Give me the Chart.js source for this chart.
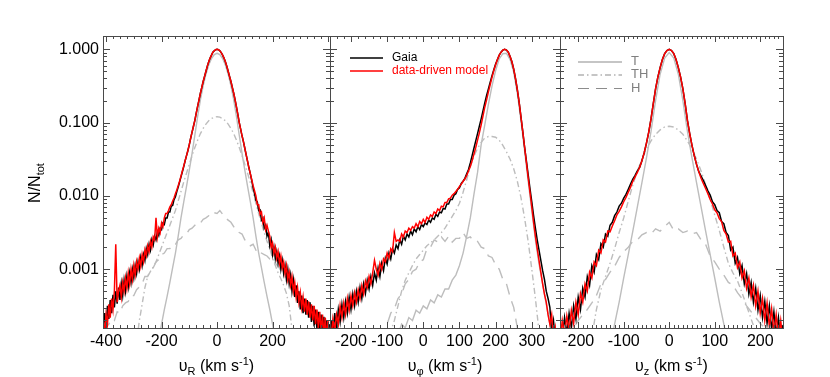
<!DOCTYPE html>
<html>
<head>
<meta charset="utf-8">
<script src="https://cdn.jsdelivr.net/npm/chart.js@4.4.1/dist/chart.umd.min.js"></script>
<style>
html,body{margin:0;padding:0;background:#fff;}
#wrap{position:relative;width:830px;height:377px;background:#fff;}
#wrap canvas{position:absolute;left:0;top:0;}
</style>
</head>
<body>
<div id="wrap">
<canvas id="c0" width="830" height="377"></canvas>
<canvas id="c1" width="830" height="377"></canvas>
<canvas id="c2" width="830" height="377"></canvas>
</div>
<script>
// ---------------- DATA (values are log10 of N/Ntot) ----------------
// Panel 1: v_R
const vR = [
-415,-410,-405,-400,-395,-390,-385,-380,-375,-370,
-365,-360,-355,-350,-345,-340,-335,-330,-325,-320,
-315,-310,-305,-300,-295,-290,-285,-280,-275,-270,
-265,-260,-255,-250,-245,-240,-235,-230,-225,-220,
-215,-210,-205,-200,-195,-190,-185,-180,-175,-170,
-165,-160,-155,-150,-145,-140,-135,-130,-125,-120,
-115,-110,-105,-100,-95,-90,-85,-80,-75,-70,
-65,-60,-55,-50,-45,-40,-35,-30,-25,-20,
-15,-10,-5,0,5,10,15,20,25,30,
35,40,45,50,55,60,65,70,75,80,
85,90,95,100,105,110,115,120,125,130,
135,140,145,150,155,160,165,170,175,180,
185,190,195,200,205,210,215,220,225,230,
235,240,245,250,255,260,265,270,275,280,
285,290,295,300,305,310,315,320,325,330,
335,340,345,350,355,360,365,370,375,380,
385,390,395,400,405];
const gaiaR = [
-3.72,-3.78,-3.6,-3.85,-3.5,-3.68,-3.42,-3.6,-3.35,-3.52,
-3.3,-3.47,-3.25,-3.42,-3.2,-3.36,-3.15,-3.3,-3.1,-3.24,
-3.05,-3.18,-3.0,-3.12,-2.95,-3.06,-2.9,-3.0,-2.84,-2.95,
-2.8,-2.88,-2.72,-2.8,-2.66,-2.74,-2.6,-2.67,-2.55,-2.6,
-2.49,-2.54,-2.44,-2.46,-2.37,-2.39,-2.3,-2.3,-2.22,-2.22,
-2.14,-2.13,-2.05,-2.01,-1.94,-1.88,-1.81,-1.74,-1.67,-1.6,
-1.52,-1.45,-1.38,-1.3,-1.21,-1.13,-1.05,-0.97,-0.87,-0.78,
-0.69,-0.6,-0.52,-0.44,-0.37,-0.3,-0.23,-0.17,-0.12,-0.08,
-0.04,-0.02,-0.005,0,-0.005,-0.02,-0.045,-0.08,-0.12,-0.17,
-0.23,-0.3,-0.37,-0.44,-0.52,-0.6,-0.69,-0.79,-0.89,-1.0,
-1.09,-1.18,-1.26,-1.35,-1.44,-1.53,-1.62,-1.7,-1.79,-1.89,
-1.97,-2.06,-2.08,-2.2,-2.19,-2.33,-2.3,-2.44,-2.4,-2.55,
-2.5,-2.68,-2.6,-2.8,-2.7,-2.86,-2.76,-2.92,-2.82,-3.0,
-2.88,-3.06,-2.95,-3.14,-3.0,-3.2,-3.08,-3.3,-3.15,-3.38,
-3.22,-3.46,-3.3,-3.55,-3.36,-3.6,-3.4,-3.62,-3.42,-3.66,
-3.45,-3.72,-3.5,-3.78,-3.55,-3.82,-3.58,-3.85,-3.62,-3.9,
-3.65,-3.95,-3.7,-3.95,-3.75];
const modelR = [
-3.95,-3.7,-3.88,-3.62,-3.75,-3.48,-3.66,-3.4,-3.55,-3.3,
-2.66,-3.45,-3.3,-3.22,-3.38,-3.18,-3.3,-3.12,-3.26,-3.05,
-3.2,-3.0,-3.14,-2.95,-3.08,-2.9,-3.0,-2.85,-2.96,-2.8,
-2.9,-2.74,-2.82,-2.68,-2.76,-2.62,-2.7,-2.56,-2.6,-2.3,
-2.56,-2.44,-2.5,-2.37,-2.42,-2.3,-2.24,-2.24,-2.2,-2.15,
-2.12,-2.07,-2.03,-1.97,-1.92,-1.86,-1.8,-1.73,-1.66,-1.59,
-1.52,-1.45,-1.38,-1.3,-1.21,-1.13,-1.05,-0.97,-0.87,-0.78,
-0.69,-0.6,-0.52,-0.44,-0.37,-0.3,-0.23,-0.17,-0.12,-0.08,
-0.04,-0.02,-0.005,0,-0.005,-0.02,-0.045,-0.08,-0.12,-0.17,
-0.23,-0.3,-0.37,-0.44,-0.52,-0.6,-0.69,-0.79,-0.89,-1.0,
-1.09,-1.18,-1.26,-1.35,-1.44,-1.53,-1.62,-1.7,-1.78,-1.86,
-1.93,-2.0,-2.12,-2.12,-2.25,-2.22,-2.36,-2.3,-2.46,-2.4,
-2.48,-2.55,-2.7,-2.64,-2.78,-2.7,-2.85,-2.76,-2.92,-2.82,
-2.98,-2.9,-3.06,-2.95,-3.14,-3.04,-3.22,-3.1,-3.3,-3.18,
-3.38,-3.25,-3.45,-3.32,-3.52,-3.38,-3.58,-3.4,-3.62,-3.44,
-3.66,-3.48,-3.7,-3.5,-3.75,-3.55,-3.8,-3.58,-3.85,-3.62,
-3.9,-3.66,-3.95,-3.7,-3.98];
const vRc = [
-410,-400,-390,-380,-370,-360,-350,-340,-330,-320,
-310,-300,-290,-280,-270,-260,-250,-240,-230,-220,
-210,-200,-190,-180,-170,-160,-150,-140,-130,-120,
-110,-100,-90,-80,-70,-60,-50,-40,-30,-20,
-10,0,10,20,30,40,50,60,70,80,
90,100,110,120,130,140,150,160,170,180,
190,200,210,220,230,240,250,260,270,280,
290,300,310,320,330,340,350,360,370,380,
390,400];
const compT_R = [
-4.5,-4.5,-4.5,-4.5,-4.5,-4.5,-4.5,-4.5,-4.5,-4.5,
-4.5,-4.5,-4.5,-4.5,-4.5,-4.5,-4.5,-4.5,-4.5,-4.2,
-3.95,-3.75,-3.55,-3.37,-3.18,-2.98,-2.78,-2.55,-2.3,-2.08,
-1.87,-1.65,-1.42,-1.17,-0.92,-0.69,-0.5,-0.34,-0.215,-0.126,
-0.073,-0.055,-0.073,-0.126,-0.215,-0.34,-0.5,-0.69,-0.92,-1.17,
-1.42,-1.65,-1.87,-2.08,-2.3,-2.55,-2.78,-2.98,-3.18,-3.37,
-3.55,-3.75,-3.95,-4.2,-4.5,-4.5,-4.5,-4.5,-4.5,-4.5,
-4.5,-4.5,-4.5,-4.5,-4.5,-4.5,-4.5,-4.5,-4.5,-4.5,
-4.5,-4.5];
const compTH_R = [
-4.5,-4.5,-4.5,-4.5,-4.5,-4.5,-4.5,-4.5,-4.5,-4.5,
-4.5,-4.5,-4.0,-3.7,-3.48,-3.25,-3.1,-3.03,-2.97,-2.9,
-2.8,-2.7,-2.6,-2.5,-2.4,-2.3,-2.2,-2.07,-1.94,-1.81,
-1.69,-1.57,-1.45,-1.34,-1.24,-1.15,-1.08,-1.02,-0.975,-0.945,
-0.926,-0.92,-0.926,-0.945,-0.975,-1.02,-1.08,-1.15,-1.24,-1.34,
-1.45,-1.57,-1.69,-1.82,-1.96,-2.1,-2.24,-2.37,-2.5,-2.62,
-2.72,-2.85,-2.95,-3.05,-3.13,-3.22,-3.33,-3.5,-3.82,-4.1,
-4.5,-4.5,-4.5,-4.5,-4.5,-4.5,-4.5,-4.5,-4.5,-4.5,
-4.5,-4.5];
const compH_R = [
-3.85,-3.78,-3.75,-3.68,-3.7,-3.58,-3.6,-3.5,-3.46,-3.44,
-3.36,-3.36,-3.28,-3.24,-3.2,-3.1,-3.1,-3.0,-2.98,-2.9,
-2.87,-2.8,-2.78,-2.72,-2.72,-2.66,-2.66,-2.6,-2.58,-2.53,
-2.52,-2.46,-2.44,-2.4,-2.36,-2.37,-2.32,-2.3,-2.27,-2.28,
-2.23,-2.24,-2.2,-2.25,-2.3,-2.33,-2.36,-2.42,-2.44,-2.5,
-2.52,-2.6,-2.62,-2.68,-2.66,-2.74,-2.72,-2.78,-2.8,-2.82,
-2.86,-2.85,-2.92,-2.96,-3.02,-3.06,-3.12,-3.18,-3.22,-3.3,
-3.36,-3.42,-3.44,-3.52,-3.55,-3.62,-3.64,-3.7,-3.78,-3.8,
-3.88,-3.95];

// Panel 2: v_phi
const vPhi = [
-255,-250,-245,-240,-235,-230,-225,-220,-215,-210,
-205,-200,-195,-190,-185,-180,-175,-170,-165,-160,
-155,-150,-145,-140,-135,-130,-125,-120,-115,-110,
-105,-100,-95,-90,-85,-80,-75,-70,-65,-60,
-55,-50,-45,-40,-35,-30,-25,-20,-15,-10,
-5,0,5,10,15,20,25,30,35,40,
45,50,55,60,65,70,75,80,85,90,
95,100,105,110,115,120,125,130,135,140,
145,150,155,160,165,170,175,180,185,190,
195,200,205,210,215,220,225,230,235,240,
245,250,255,260,265,270,275,280,285,290,
295,300,305,310,315,320,325,330,335,340,
345,350,355,360,365,370];
const gaiaPhi = [
-3.7,-3.92,-3.6,-3.82,-3.55,-3.72,-3.48,-3.66,-3.44,-3.6,
-3.38,-3.55,-3.34,-3.5,-3.3,-3.45,-3.25,-3.4,-3.2,-3.33,
-3.15,-3.27,-3.1,-3.22,-3.05,-3.15,-2.98,-3.1,-2.92,-3.02,
-2.85,-2.93,-2.78,-2.86,-2.72,-2.78,-2.67,-2.72,-2.6,-2.66,
-2.55,-2.6,-2.52,-2.56,-2.48,-2.53,-2.45,-2.49,-2.42,-2.46,
-2.39,-2.42,-2.37,-2.39,-2.33,-2.36,-2.3,-2.32,-2.25,-2.28,
-2.22,-2.23,-2.17,-2.18,-2.11,-2.11,-2.05,-2.05,-1.99,-1.97,
-1.91,-1.89,-1.83,-1.8,-1.76,-1.7,-1.64,-1.55,-1.45,-1.35,
-1.25,-1.15,-1.05,-0.95,-0.84,-0.73,-0.63,-0.54,-0.45,-0.36,
-0.28,-0.2,-0.14,-0.08,-0.04,-0.01,0,-0.01,-0.04,-0.1,
-0.17,-0.27,-0.4,-0.55,-0.72,-0.92,-1.12,-1.33,-1.52,-1.71,
-1.9,-2.08,-2.27,-2.44,-2.6,-2.74,-2.88,-3.02,-3.14,-3.3,
-3.4,-3.52,-3.85,-3.7,-3.98,-3.9];
const modelPhi = [
-3.95,-3.68,-3.85,-3.62,-3.75,-3.5,-3.66,-3.46,-3.62,-3.4,
-3.56,-3.36,-3.5,-3.32,-3.45,-3.28,-3.4,-3.22,-3.34,-3.16,
-3.25,-3.1,-3.2,-3.05,-2.88,-3.0,-3.08,-2.92,-3.0,-2.86,
-2.9,-2.78,-2.85,-2.72,-2.76,-2.5,-2.62,-2.6,-2.62,-2.52,
-2.56,-2.48,-2.5,-2.44,-2.47,-2.42,-2.44,-2.38,-2.42,-2.35,
-2.38,-2.32,-2.36,-2.29,-2.32,-2.26,-2.28,-2.22,-2.24,-2.18,
-2.2,-2.14,-2.15,-2.09,-2.09,-2.04,-2.03,-1.99,-1.97,-1.94,
-1.91,-1.87,-1.84,-1.8,-1.77,-1.72,-1.66,-1.6,-1.52,-1.43,
-1.34,-1.24,-1.14,-1.03,-0.91,-0.79,-0.69,-0.58,-0.48,-0.38,
-0.29,-0.21,-0.14,-0.08,-0.04,-0.01,0,-0.01,-0.04,-0.1,
-0.17,-0.27,-0.4,-0.55,-0.72,-0.92,-1.12,-1.33,-1.54,-1.75,
-1.95,-2.15,-2.36,-2.55,-2.72,-2.88,-3.04,-3.2,-3.34,-3.45,
-3.62,-3.75,-3.62,-3.95,-3.8,-4.1];
const vPhic = [
-250,-240,-230,-220,-210,-200,-190,-180,-170,-160,
-150,-140,-130,-120,-110,-100,-90,-80,-70,-60,
-50,-40,-30,-20,-10,0,10,20,30,40,
50,60,70,80,90,100,110,120,130,140,
150,160,170,180,190,200,210,220,230,240,
250,260,270,280,290,300,310,320,330,340,
350,360,370];
const compT_Phi = [
-4.3,-4.3,-4.3,-4.3,-4.3,-4.3,-4.3,-4.3,-4.3,-4.3,
-4.3,-4.3,-4.3,-4.3,-4.3,-4.3,-4.1,-3.9,-3.9,-3.75,
-3.8,-3.66,-3.7,-3.56,-3.6,-3.5,-3.54,-3.42,-3.46,-3.35,
-3.38,-3.27,-3.27,-3.15,-3.08,-2.95,-2.78,-2.55,-2.3,-1.98,
-1.68,-1.3,-1.03,-0.75,-0.5,-0.29,-0.13,-0.06,-0.055,-0.14,
-0.31,-0.6,-0.97,-1.38,-1.8,-2.2,-2.6,-2.93,-3.2,-3.48,
-3.75,-4.0,-4.2];
const compTH_Phi = [
-4.3,-4.3,-4.3,-4.3,-4.3,-4.3,-4.3,-4.3,-4.3,-4.3,
-4.3,-4.3,-4.3,-4.3,-4.3,-4.0,-3.85,-3.7,-3.5,-3.3,
-3.15,-3.05,-2.95,-2.86,-2.8,-2.74,-2.68,-2.64,-2.6,-2.55,
-2.5,-2.44,-2.36,-2.28,-2.2,-2.1,-1.95,-1.78,-1.6,-1.46,
-1.35,-1.27,-1.21,-1.19,-1.19,-1.2,-1.24,-1.31,-1.4,-1.5,
-1.63,-1.8,-2.02,-2.3,-2.62,-3.0,-3.4,-3.85,-4.3,-4.3,
-4.3,-4.3,-4.3];
const compH_Phi = [
-4.3,-4.3,-4.3,-4.3,-4.3,-4.3,-4.3,-4.3,-4.3,-4.3,
-4.3,-4.3,-4.3,-4.3,-4.0,-3.75,-3.6,-3.54,-3.4,-3.34,
-3.2,-3.14,-3.03,-3.0,-2.9,-2.87,-2.72,-2.7,-2.6,-2.63,
-2.56,-2.62,-2.55,-2.63,-2.58,-2.58,-2.5,-2.58,-2.56,-2.62,
-2.62,-2.7,-2.72,-2.82,-2.84,-2.94,-3.0,-3.14,-3.2,-3.38,
-3.52,-3.8,-4.1,-4.3,-4.3,-4.3,-4.3,-4.3,-4.3,-4.3,
-4.3,-4.3,-4.3];

// Panel 3: v_z
const vZ = [
-240,-235,-230,-225,-220,-215,-210,-205,-200,-195,
-190,-185,-180,-175,-170,-165,-160,-155,-150,-145,
-140,-135,-130,-125,-120,-115,-110,-105,-100,-95,
-90,-85,-80,-75,-70,-65,-60,-55,-50,-45,
-40,-35,-30,-25,-20,-15,-10,-5,0,5,
10,15,20,25,30,35,40,45,50,55,
60,65,70,75,80,85,90,95,100,105,
110,115,120,125,130,135,140,145,150,155,
160,165,170,175,180,185,190,195,200,205,
210,215,220,225,230,235,240,245,250];
const gaiaZ = [
-3.72,-3.95,-3.66,-3.88,-3.6,-3.8,-3.5,-3.68,-3.38,-3.55,
-3.26,-3.38,-3.1,-3.22,-2.95,-3.04,-2.8,-2.87,-2.65,-2.7,
-2.52,-2.55,-2.4,-2.36,-2.27,-2.22,-2.14,-2.1,-2.03,-1.98,
-1.91,-1.84,-1.77,-1.72,-1.66,-1.61,-1.52,-1.41,-1.28,-1.13,
-0.95,-0.74,-0.54,-0.38,-0.25,-0.14,-0.06,-0.016,0,-0.016,
-0.06,-0.14,-0.25,-0.38,-0.54,-0.74,-0.97,-1.15,-1.31,-1.45,
-1.57,-1.67,-1.73,-1.79,-1.86,-1.93,-1.99,-2.08,-2.12,-2.2,
-2.23,-2.35,-2.38,-2.5,-2.54,-2.74,-2.7,-2.92,-2.84,-3.06,
-2.95,-3.2,-3.06,-3.34,-3.18,-3.45,-3.26,-3.56,-3.36,-3.66,
-3.44,-3.74,-3.5,-3.82,-3.58,-3.9,-3.66,-3.98,-3.76];
const modelZ = [
-3.98,-3.7,-3.9,-3.64,-3.84,-3.56,-3.74,-3.45,-3.62,-3.33,
-3.45,-3.2,-3.3,-3.04,-3.12,-2.9,-2.95,-2.74,-2.78,-2.6,
-2.63,-2.48,-2.49,-2.41,-2.34,-2.26,-2.21,-2.15,-2.08,-2.02,
-1.95,-1.88,-1.8,-1.74,-1.68,-1.61,-1.52,-1.41,-1.28,-1.13,
-0.95,-0.74,-0.54,-0.38,-0.25,-0.14,-0.06,-0.016,0,-0.016,
-0.06,-0.14,-0.25,-0.38,-0.54,-0.74,-0.97,-1.15,-1.31,-1.45,
-1.57,-1.67,-1.76,-1.83,-1.9,-1.97,-2.05,-2.11,-2.19,-2.23,
-2.31,-2.35,-2.47,-2.52,-2.63,-2.62,-2.82,-2.78,-2.98,-2.9,
-3.12,-3.02,-3.26,-3.12,-3.38,-3.22,-3.5,-3.3,-3.6,-3.4,
-3.7,-3.46,-3.78,-3.54,-3.86,-3.62,-3.95,-3.7,-4.0];
const vZc = [
-240,-230,-220,-210,-200,-190,-180,-170,-160,-150,
-140,-130,-120,-110,-100,-90,-80,-70,-60,-50,
-40,-30,-20,-10,0,10,20,30,40,50,
60,70,80,90,100,110,120,130,140,150,
160,170,180,190,200,210,220,230,240,250];
const compT_Z = [
-4.3,-4.3,-4.3,-4.3,-4.3,-4.3,-4.3,-4.3,-4.3,-4.3,
-4.3,-4.05,-3.75,-3.45,-3.12,-2.8,-2.48,-2.15,-1.82,-1.48,
-1.12,-0.7,-0.34,-0.12,-0.046,-0.12,-0.34,-0.7,-1.12,-1.48,
-1.82,-2.15,-2.48,-2.8,-3.12,-3.45,-3.75,-4.05,-4.3,-4.3,
-4.3,-4.3,-4.3,-4.3,-4.3,-4.3,-4.3,-4.3,-4.3,-4.3];
const compTH_Z = [
-4.3,-4.3,-4.3,-4.3,-4.3,-4.3,-4.3,-3.92,-3.55,-3.28,
-3.1,-2.92,-2.72,-2.5,-2.3,-2.07,-1.85,-1.66,-1.5,-1.36,
-1.25,-1.16,-1.1,-1.06,-1.05,-1.06,-1.1,-1.16,-1.25,-1.36,
-1.5,-1.66,-1.85,-2.05,-2.26,-2.47,-2.7,-2.92,-3.05,-3.16,
-3.32,-3.5,-3.68,-3.85,-4.0,-4.3,-4.3,-4.3,-4.3,-4.3];
const compH_Z = [
-4.2,-4.1,-3.95,-3.8,-3.7,-3.62,-3.55,-3.46,-3.36,-3.2,
-3.14,-3.04,-2.96,-2.84,-2.76,-2.7,-2.62,-2.6,-2.53,-2.5,
-2.52,-2.45,-2.48,-2.42,-2.36,-2.47,-2.45,-2.5,-2.48,-2.52,
-2.5,-2.6,-2.66,-2.82,-2.9,-3.0,-3.08,-3.18,-3.22,-3.32,
-3.4,-3.5,-3.58,-3.66,-3.74,-3.8,-3.9,-4.0,-4.1,-4.2];

// Axis ticks / labels
const yMajorTicks = [0.001, 0.01, 0.1, 1];
const yTickLabels = ['0.001', '0.010', '0.100', '1.000'];
const yDecadeStarts = [0.0001, 0.001, 0.01, 0.1, 1];
const yMinorMultipliers = [1, 2, 3, 4, 5, 6, 7, 8, 9];
const xLabelledTicks = [
  [-400, -200, 0, 200],
  [-200, -100, 0, 100, 200, 300],
  [-200, -100, 0, 100, 200]
];
const xMajorSteps = [200, 100, 100];
const xMinorSteps = [25, 20, 10];
const xRanges = [[-411, 407], [-258, 378], [-240, 250]];
const yRange = [1.577e-4, 1.518];

// Text
const seriesNames = ['Gaia', 'data-driven model'];
const componentNames = ['T', 'TH', 'H'];
const xTitles = [
  [['υ','n'],['R','sub'],[' (km s','n'],['-1','sup'],[')','n']],
  [['υ','n'],['φ','sub'],[' (km s','n'],['-1','sup'],[')','n']],
  [['υ','n'],['z','sub'],[' (km s','n'],['-1','sup'],[')','n']]
];
const yTitle = [['N/N','n'],['tot','sub']];

// ---------------- LAYOUT / STYLE ----------------
const W = 830, H = 377;
const plotTop = 36, plotBottom = 328;
const panelEdges = [[103, 330], [330, 560], [560, 783]];
const FONT = '"Liberation Sans", Arial, Helvetica, sans-serif';
const GRAY = '#bdbdbd';
const DASH_TH = [6, 3, 1.5, 3];
const DASH_H = [11, 7];

const panelData = [
  {x: vR, xc: vRc, gaia: gaiaR, model: modelR, T: compT_R, TH: compTH_R, H: compH_R},
  {x: vPhi, xc: vPhic, gaia: gaiaPhi, model: modelPhi, T: compT_Phi, TH: compTH_Phi, H: compH_Phi},
  {x: vZ, xc: vZc, gaia: gaiaZ, model: modelZ, T: compT_Z, TH: compTH_Z, H: compH_Z}
];

function toPoints(xs, logs) {
  if (xs.length !== logs.length) console.warn('length mismatch', xs.length, logs.length);
  return xs.map((x, i) => ({x: x, y: Math.pow(10, logs[i])}));
}

function isLogMajor(v) {
  const lg = Math.log10(v);
  return Math.abs(lg - Math.round(lg)) < 1e-6;
}

function yTickList() {
  const out = [];
  yDecadeStarts.forEach(d => yMinorMultipliers.forEach(m => {
    const v = d * m;
    if (v >= yRange[0] && v <= yRange[1]) out.push({value: v});
  }));
  return out;
}

function xTickList(min, max, step) {
  const out = [];
  for (let v = Math.ceil(min / step) * step; v <= max + 1e-9; v += step) out.push({value: Math.round(v * 1000) / 1000});
  return out;
}

function drawRich(ctx, segs, cx, baseline, size) {
  const small = Math.round(size * 0.7);
  const fontFor = k => (k === 'n' ? size : small) + 'px ' + FONT;
  let w = 0;
  segs.forEach(([t, k]) => { ctx.font = fontFor(k); w += ctx.measureText(t).width; });
  let x = cx - w / 2;
  ctx.textAlign = 'left';
  ctx.textBaseline = 'alphabetic';
  segs.forEach(([t, k]) => {
    ctx.font = fontFor(k);
    const dy = k === 'sub' ? size * 0.27 : (k === 'sup' ? -size * 0.4 : 0);
    ctx.fillText(t, x, baseline + dy);
    x += ctx.measureText(t).width;
  });
}

function makeDecor(p) {
  return {
    id: 'decor' + p,
    afterDatasetsDraw(chart) {
      const ctx = chart.ctx, a = chart.chartArea;
      const xs = chart.scales.x, ys = chart.scales.y;
      ctx.save();
      ctx.strokeStyle = '#4a4a4a';
      ctx.lineWidth = 1;
      ctx.beginPath();
      xs.ticks.forEach(t => {
        const px = Math.round(xs.getPixelForValue(t.value)) + 0.5;
        const len = (Math.abs(t.value % xMajorSteps[p]) < 1e-9) ? 6 : 3;
        ctx.moveTo(px, a.bottom); ctx.lineTo(px, a.bottom - len);
        ctx.moveTo(px, a.top); ctx.lineTo(px, a.top + len);
      });
      ys.ticks.forEach(t => {
        const py = Math.round(ys.getPixelForValue(t.value)) + 0.5;
        const len = isLogMajor(t.value) ? 7 : 4;
        ctx.moveTo(a.left, py); ctx.lineTo(a.left + len, py);
        ctx.moveTo(a.right, py); ctx.lineTo(a.right - len, py);
      });
      ctx.stroke();
      ctx.strokeRect(a.left + 0.5, a.top + 0.5, a.right - a.left, a.bottom - a.top);
      ctx.fillStyle = '#000';
      drawRich(ctx, xTitles[p], (a.left + a.right) / 2, a.bottom + 43, 16);
      if (p === 0) {
        ctx.save();
        ctx.translate(40, (a.top + a.bottom) / 2 + 1);
        ctx.rotate(-Math.PI / 2);
        drawRich(ctx, yTitle, 0, 0, 16);
        ctx.restore();
      }
      if (p === 1) {
        const cols = ['#000000', '#ff0000'];
        const rows = [22, 35];
        seriesNames.forEach((name, i) => {
          const y = a.top + rows[i];
          ctx.strokeStyle = cols[i]; ctx.lineWidth = 1.5; ctx.setLineDash([]);
          ctx.beginPath(); ctx.moveTo(a.left + 20, y); ctx.lineTo(a.left + 53, y); ctx.stroke();
          ctx.fillStyle = cols[i]; ctx.font = '12px ' + FONT; ctx.textBaseline = 'middle'; ctx.textAlign = 'left';
          ctx.fillText(name, a.left + 62, y - 0.5);
        });
      }
      if (p === 2) {
        const dashes = [[], DASH_TH, DASH_H];
        const rows = [26, 39, 52.5];
        componentNames.forEach((name, i) => {
          const y = a.top + rows[i];
          ctx.strokeStyle = '#8c8c8c'; ctx.lineWidth = 1.2; ctx.setLineDash(dashes[i]);
          ctx.beginPath(); ctx.moveTo(a.left + 18, y); ctx.lineTo(a.left + 62, y); ctx.stroke();
          ctx.setLineDash([]);
          ctx.fillStyle = '#808080'; ctx.font = '13px ' + FONT; ctx.textBaseline = 'middle'; ctx.textAlign = 'left';
          ctx.fillText(name, a.left + 71, y - 0.5);
        });
      }
      ctx.restore();
    }
  };
}

function buildChart(p) {
  const d = panelData[p];
  const [x0, x1] = panelEdges[p];
  const [xmin, xmax] = xRanges[p];
  const common = {pointRadius: 0, fill: false, tension: 0, clip: 0, spanGaps: true};
  const datasets = [
    Object.assign({label: seriesNames[1], data: toPoints(d.x, d.model), borderColor: '#ff0000', borderWidth: 1.5, order: 0}, common),
    Object.assign({label: seriesNames[0], data: toPoints(d.x, d.gaia), borderColor: '#000000', borderWidth: 1.5, order: 1}, common),
    Object.assign({label: componentNames[0], data: toPoints(d.xc, d.T), borderColor: GRAY, borderWidth: 1.4, order: 2}, common),
    Object.assign({label: componentNames[1], data: toPoints(d.xc, d.TH), borderColor: GRAY, borderWidth: 1.4, borderDash: DASH_TH, order: 3}, common),
    Object.assign({label: componentNames[2], data: toPoints(d.xc, d.H), borderColor: GRAY, borderWidth: 1.4, borderDash: DASH_H, order: 4}, common)
  ];
  const yWidth = p === 0 ? x0 : 0;
  const xAxisH = 20;
  return new Chart(document.getElementById('c' + p), {
    type: 'line',
    data: {datasets: datasets},
    options: {
      responsive: false,
      animation: false,
      devicePixelRatio: 1,
      events: [],
      layout: {padding: {left: p === 0 ? 0 : x0, right: W - x1, top: plotTop, bottom: H - plotBottom - xAxisH}},
      plugins: {legend: {display: false}, tooltip: {enabled: false}, title: {display: false}},
      scales: {
        x: {
          type: 'linear', position: 'bottom', min: xmin, max: xmax,
          afterBuildTicks: s => { s.ticks = xTickList(xmin, xmax, xMinorSteps[p]); },
          afterFit: s => { s.height = xAxisH; },
          grid: {display: false, drawTicks: false},
          border: {display: false},
          ticks: {
            autoSkip: false, maxRotation: 0, minRotation: 0, padding: 4,
            color: '#000', font: {family: FONT, size: 16},
            callback: v => (xLabelledTicks[p].includes(v) ? String(v) : '')
          }
        },
        y: {
          type: 'logarithmic', position: 'left', min: yRange[0], max: yRange[1],
          afterBuildTicks: s => { s.ticks = yTickList(); },
          afterFit: s => { s.width = yWidth; },
          grid: {display: false, drawTicks: false},
          border: {display: false},
          ticks: {
            display: p === 0, autoSkip: false, padding: 4,
            color: '#000', font: {family: FONT, size: 16},
            callback: v => {
              const i = yMajorTicks.findIndex(m => Math.abs(m - v) / m < 1e-6);
              return i >= 0 ? yTickLabels[i] : '';
            }
          }
        }
      }
    },
    plugins: [makeDecor(p)]
  });
}

Chart.defaults.font.family = FONT;
[0, 1, 2].forEach(buildChart);
</script>
</body>
</html>
